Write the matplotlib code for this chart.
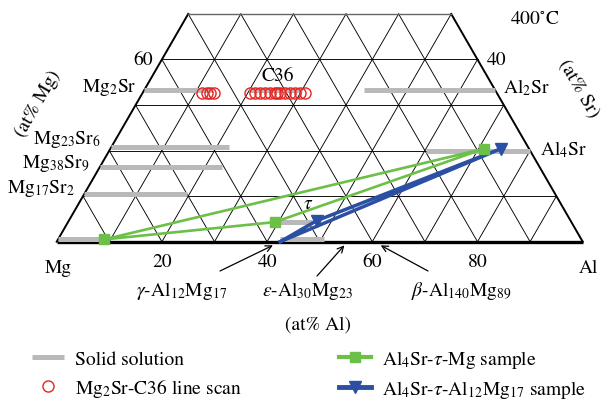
import numpy as np
import matplotlib
matplotlib.use("Agg")
import matplotlib.pyplot as plt
from matplotlib.lines import Line2D

plt.rcParams['font.family'] = ['STIXGeneral', 'DejaVu Serif']
plt.rcParams['mathtext.fontset'] = 'stix'

# ---------------- data ----------------
grid_step = 10
sr_top = 50

# solid-solution ranges: (at% Sr, at% Al start, at% Al end)
ss_sr = [0.6, 10.5, 16.3, 20.7, 33.3, 33.3, 33.3, 20.0, 4.4, 0.6]
ss_al0 = [0.0, 0.0, 0.0, 0.0, 0.0, 20.0, 41.8, 60.3, 40.3, 42.1]
ss_al1 = [9.0, 19.5, 23.2, 22.4, 13.1, 30.0, 66.7, 80.0, 46.3, 50.5]

# Mg2Sr-C36 line scan points
scan_al = [11.3, 12.2, 12.8, 13.6, 20.4, 21.4, 22.3, 23.3, 24.2, 25.2, 25.6,
           26.2, 27.1, 28.0, 29.0, 29.9, 30.9]
scan_sr = [32.6] * len(scan_al)

# Al4Sr-tau-Mg sample (Mg, tau, Al4Sr)
g_al = [8.8, 39.3, 71.0]
g_sr = [0.5, 4.3, 20.4]
# Al4Sr-tau-Al12Mg17 sample (Al12Mg17, tau, Al4Sr)
b_al = [42.5, 47.1, 74.2]
b_sr = [0.0, 4.6, 20.4]

bottom_ticks = [20, 40, 60, 80]
left_tick, right_tick = 60, 40

arrow_names = [r'$\gamma$-Al$_{12}$Mg$_{17}$', r'$\varepsilon$-Al$_{30}$Mg$_{23}$',
               r'$\beta$-Al$_{140}$Mg$_{89}$']
arrow_al = [41.5, 55.1, 62.0]

# ---------------- helpers ----------------
S3 = np.sqrt(3) / 2


def tern(al, sr):
    al = np.asarray(al, float)
    sr = np.asarray(sr, float)
    return al + sr / 2, sr * S3


PX = 5.26
X0, Y0 = 56.7, 242.7


def px(xp, yp):
    return (xp - X0) / PX, (Y0 - yp) / PX


fig = plt.figure(figsize=(6.04, 4.06), dpi=100)
ax = fig.add_axes([0, 0, 1, 1])
ax.set_xlim(-X0 / PX, (604 - X0) / PX)
ax.set_ylim((Y0 - 406) / PX, Y0 / PX)
ax.axis('off')

grid_kw = dict(color='black', lw=0.65, zorder=1)
# horizontal lines (constant Sr)
for s in range(grid_step, sr_top, grid_step):
    x, y = tern([0, 100 - s], [s, s])
    ax.plot(x, y, **grid_kw)
# constant Al lines
for a in range(grid_step, 100, grid_step):
    s_end = min(sr_top, 100 - a)
    x, y = tern([a, a], [0, s_end])
    ax.plot(x, y, **grid_kw)
# constant Mg lines
for m in range(grid_step, 100, grid_step):
    s_end = min(sr_top, 100 - m)
    al0 = 100 - m
    x, y = tern([al0, al0 - s_end], [0, s_end])
    ax.plot(x, y, **grid_kw)

# outline
x, y = tern([0, 0], [0, sr_top])
ax.plot(x, y, color='black', lw=1.4, zorder=2)
x, y = tern([100, 100 - sr_top], [0, sr_top])
ax.plot(x, y, color='black', lw=1.4, zorder=2)
x, y = tern([0, 100 - sr_top], [sr_top, sr_top])
ax.plot(x, y, color='#666666', lw=1.0, zorder=2)
x, y = tern([0, 100], [0, 0])
ax.plot(x, y, color='black', lw=2.4, zorder=2, solid_capstyle='butt')

# solid solutions
grey = '#b9b9b9'
for s, a0, a1 in zip(ss_sr, ss_al0, ss_al1):
    x, y = tern([a0, a1], [s, s])
    ax.plot(x, y, color=grey, lw=3.6, zorder=3, solid_capstyle='butt')

# tie triangles
green = '#6cbf47'
blue = '#2a4fa3'
x, y = tern(g_al + [g_al[0]], g_sr + [g_sr[0]])
ax.plot(x, y, color=green, lw=1.9, zorder=4)
x, y = tern(g_al, g_sr)
ax.plot(x, y, ls='none', marker='s', ms=7, color=green, zorder=5)
x, y = tern(b_al + [b_al[0]], b_sr + [b_sr[0]])
ax.plot(x, y, color=blue, lw=2.5, zorder=4)
x, y = tern(b_al[1:], b_sr[1:])
ax.plot(x, y, ls='none', marker='v', ms=8.5, color=blue, zorder=5)

# line scan
x, y = tern(scan_al, scan_sr)
ax.plot(x, y, ls='none', marker='o', ms=8, mfc='none', mec='#e8221e', mew=1.0, zorder=6)

fs = 14
# bottom ticks
for t in bottom_ticks:
    x, y = tern(t, 0)
    ax.text(x, px(0, 262)[1], str(t), ha='center', va='center', fontsize=fs)
x, y = tern(0, 100 - left_tick)
ax.text(x - 1.7, y, str(left_tick), ha='right', va='center', fontsize=fs)
x, y = tern(100 - right_tick, right_tick)
ax.text(x + 1.7, y, str(right_tick), ha='left', va='center', fontsize=fs)

ax.text(*px(58, 268), 'Mg', ha='center', va='center', fontsize=fs)
ax.text(*px(588, 268), 'Al', ha='center', va='center', fontsize=fs)
ax.text(*px(318, 325), '(at% Al)', ha='center', va='center', fontsize=fs)
ax.text(*px(38, 104), '(at% Mg)', ha='center', va='center', fontsize=fs, rotation=60)
ax.text(*px(579, 89), '(at% Sr)', ha='center', va='center', fontsize=fs, rotation=-60)
ax.text(*px(535, 19), r'400$^{\circ}$C', ha='center', va='center', fontsize=fs)
ax.text(*px(278, 76), 'C36', ha='center', va='center', fontsize=fs)
ax.text(*px(308, 204), r'$\tau$', ha='center', va='center', fontsize=fs)

# phase labels on the edges
ax.text(*px(137, 88), r'Mg$_2$Sr', ha='right', va='center', fontsize=fs)
ax.text(*px(101, 140), r'Mg$_{23}$Sr$_6$', ha='right', va='center', fontsize=fs)
ax.text(*px(90, 164), r'Mg$_{38}$Sr$_9$', ha='right', va='center', fontsize=fs)
ax.text(*px(75, 189), r'Mg$_{17}$Sr$_2$', ha='right', va='center', fontsize=fs)
ax.text(*px(503, 88), r'Al$_2$Sr', ha='left', va='center', fontsize=fs)
ax.text(*px(540, 150), r'Al$_4$Sr', ha='left', va='center', fontsize=fs)

# arrows to binary phases
tails = [px(220, 272), px(317, 277), px(428, 272)]
label_pos = [px(182, 291), px(308, 291), px(461, 291)]
for name, a, tl, lp in zip(arrow_names, arrow_al, tails, label_pos):
    tip = tern(a, -0.8)
    ax.annotate('', xy=tip, xytext=tl,
                arrowprops=dict(arrowstyle='->', color='black', lw=0.9,
                                shrinkA=0, shrinkB=0, mutation_scale=11))
    ax.text(lp[0], lp[1], name, ha='center', va='center', fontsize=fs)

handles = [
    Line2D([], [], color=grey, lw=3.6, solid_capstyle='butt'),
    Line2D([], [], ls='none', marker='o', ms=8, mfc='none', mec='#e8221e', mew=1.0),
    Line2D([], [], color=green, lw=3.0, marker='s', ms=7),
    Line2D([], [], color=blue, lw=3.5, marker='v', ms=8.5),
]
labels = ['Solid solution', r'Mg$_2$Sr-C36 line scan', r'Al$_4$Sr-$\tau$-Mg sample',
          r'Al$_4$Sr-$\tau$-Al$_{12}$Mg$_{17}$ sample']
fig.legend(handles, labels, ncol=2, loc='upper left', bbox_to_anchor=(32 / 604, 1 - 349 / 406),
           frameon=False, fontsize=fs, handlelength=1.65, handletextpad=0.57,
           columnspacing=5.0, labelspacing=0.42, borderpad=0, borderaxespad=0)

fig.savefig('out.png', dpi=100)
